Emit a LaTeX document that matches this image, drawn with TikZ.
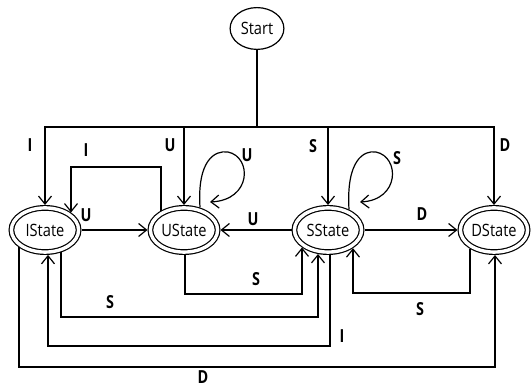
\documentclass[tikz,border=0pt]{standalone}
\usepackage{fontspec}
\setmainfont{Open Sans}
\newfontfamily\statefont[FakeStretch=0.86]{Open Sans}
\newfontfamily\labfont[FakeStretch=0.8]{Open Sans}
\usetikzlibrary{arrows.meta,calc,shapes.geometric}
\begin{document}
\begin{tikzpicture}[x=1pt,y=-1pt,
  line width=1.2pt,
  arr/.style={-{Straight Barb[length=8pt,width=13pt,line width=1.2pt]}},
  statebox/.style={ellipse,draw,double,double distance=3.4pt,outer sep=2.9pt,
    minimum width=67.2pt,minimum height=44.2pt,inner sep=0pt,
    font=\statefont\fontsize{17}{20}\selectfont},
  startbox/.style={ellipse,draw,outer sep=0.6pt,minimum width=53.8pt,minimum height=41.8pt,
    inner sep=0pt,font=\statefont\fontsize{17}{20}\selectfont},
  lab/.style={font=\labfont\fontsize{18}{20}\selectfont\bfseries,inner sep=0pt}]
\useasboundingbox (0,0) rectangle (531,387);

\node[startbox] (St) at (257,28.5) {Start};
\node[statebox] (I) at (45,230) {IState};
\node[statebox] (U) at (184,230) {UState};
\node[statebox] (S) at (328,230) {SState};
\node[statebox] (D) at (494,230) {DState};

\coordinate (J) at (257,127);

% top bus
\draw (St) -- (J);
\draw[arr] (J) -| (I);
\draw[arr] (J) -| (D);
\draw[arr] (J -| U) -- (U);
\draw[arr] (J -| S) -- (S);

% I loop from UState to IState
\draw[arr] ($(U)+(-23,-19.4)$) -- (161,167) -- (71,167) -- ($(I)+(26,-17.5)$);

% horizontal
\draw[arr] (I) -- (U);
\draw[arr] (S) -- (U);
\draw[arr] (S) -- (D);

% self loops
\draw[arr] ($(U)+(16,-22.5)$) .. controls ($(U)+(13,-70)$) and ($(U)+(31,-80)$) .. ($(U)+(44,-78)$)
  .. controls ($(U)+(68,-73)$) and ($(U)+(68,-30)$) .. ($(U)+(26,-28)$);
\draw[arr] ($(S)+(21,-20.4)$) .. controls ($(S)+(18,-70)$) and ($(S)+(36,-80)$) .. ($(S)+(48,-78)$)
  .. controls ($(S)+(72,-73)$) and ($(S)+(72,-30)$) .. ($(S)+(32,-28)$);

% bottom connectors
\draw[arr] ($(U)+(1,25)$) -- (185,294) -- (302,294) -- ($(S)+(-26,17.5)$);
\draw[arr] ($(I)+(16,22.5)$) -- (61,317) -- (318,317) -- ($(S)+(-10,24)$);
\draw[arr] ($(S)+(2,25)$) -- (330,346) -- (48,346) -- ($(I)+(3,24.9)$);
\draw[arr] ($(I)+(-26,17.5)$) -- (19,367) -- (495,367) -- ($(D)+(1,25)$);
\draw[arr] ($(D)+(-24,18.8)$) -- (470,293) -- (353,293) -- ($(S)+(25,18.2)$);

% labels
\node[lab] (l1) at (30,145) {I};
\node[lab] (l2) at (86,150) {I};
\node[lab] (l3) at (170,145) {U};
\node[lab] (l4) at (247,155) {U};
\node[lab] (l5) at (86,215) {U};
\node[lab] (l6) at (253,219) {U};
\node[lab] (l7) at (313,146) {S};
\node[lab] (l8) at (397,158) {S};
\node[lab] (l9) at (505,145) {D};
\node[lab] (l10) at (422,214) {D};
\node[lab] (l11) at (256,279) {S};
\node[lab] (l12) at (110,302) {S};
\node[lab] (l13) at (342,336) {I};
\node[lab] (l14) at (420,309) {S};
\node[lab] (l15) at (203,377) {D};
\end{tikzpicture}
\end{document}
